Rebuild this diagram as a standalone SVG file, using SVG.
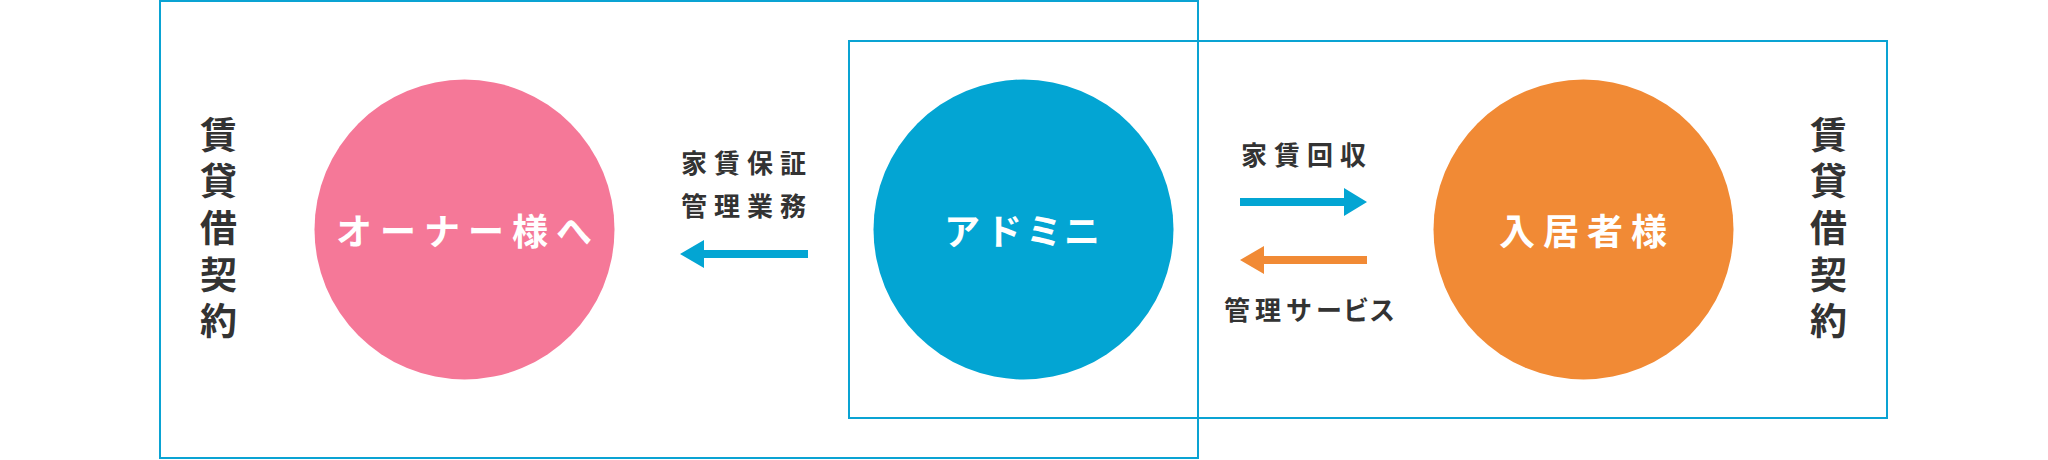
<svg xmlns="http://www.w3.org/2000/svg" width="2048" height="460" viewBox="0 0 2048 460">
<style>
.frame{fill:none;stroke:#0aa3d3;stroke-width:2}
.dark{font-family:"Noto Sans CJK JP","Noto Sans",sans-serif;font-weight:700;fill:#333333}
.lbl{font-size:26px;letter-spacing:7px}
.vert{font-size:37px;writing-mode:vertical-rl;letter-spacing:9.7px}
.white{font-family:"Noto Sans CJK JP","Noto Sans",sans-serif;font-weight:700;fill:#ffffff;font-size:36px}
</style>
<rect width="2048" height="460" fill="#ffffff"/>
<g id="frames">
<rect class="frame" x="160" y="1" width="1038" height="457"/>
<rect class="frame" x="849" y="41" width="1038" height="377"/>
</g>
<g id="contract-left">
<text class="dark vert" x="218.5" y="116">賃貸借契約</text>
</g>
<g id="contract-right">
<text class="dark vert" x="1828.5" y="116">賃貸借契約</text>
</g>
<g id="owner">
<circle cx="464.5" cy="229.5" r="150" fill="#f57898"/>
<text class="white" x="336" y="245" style="letter-spacing:8px">オーナー様へ</text>
</g>
<g id="admini">
<circle cx="1023.5" cy="229.5" r="150" fill="#03a5d3"/>
<text class="white" x="944 986 1026 1064" y="245">アドミニ</text>
</g>
<g id="tenant">
<circle cx="1583.5" cy="229.5" r="150" fill="#f18a35"/>
<text class="white" x="1499" y="245" style="letter-spacing:8px">入居者様</text>
</g>
<g id="connectors">
<polygon fill="#03a5d3" points="680,254 704,240 704,250 808,250 808,258 704,258 704,268"/>
<polygon fill="#03a5d3" points="1367,202 1344,188 1344,198 1240,198 1240,206 1344,206 1344,216"/>
<polygon fill="#f18a35" points="1240,260 1264,246 1264,256 1367,256 1367,264 1264,264 1264,274"/>
</g>
<g id="labels">
<text class="dark lbl" x="681" y="173">家賃保証</text>
<text class="dark lbl" x="681" y="216">管理業務</text>
<text class="dark lbl" x="1241" y="165">家賃回収</text>
<text class="dark" style="font-size:26px" x="1224 1255 1286 1316 1343 1369" y="320">管理サービス</text>
</g>
</svg>
